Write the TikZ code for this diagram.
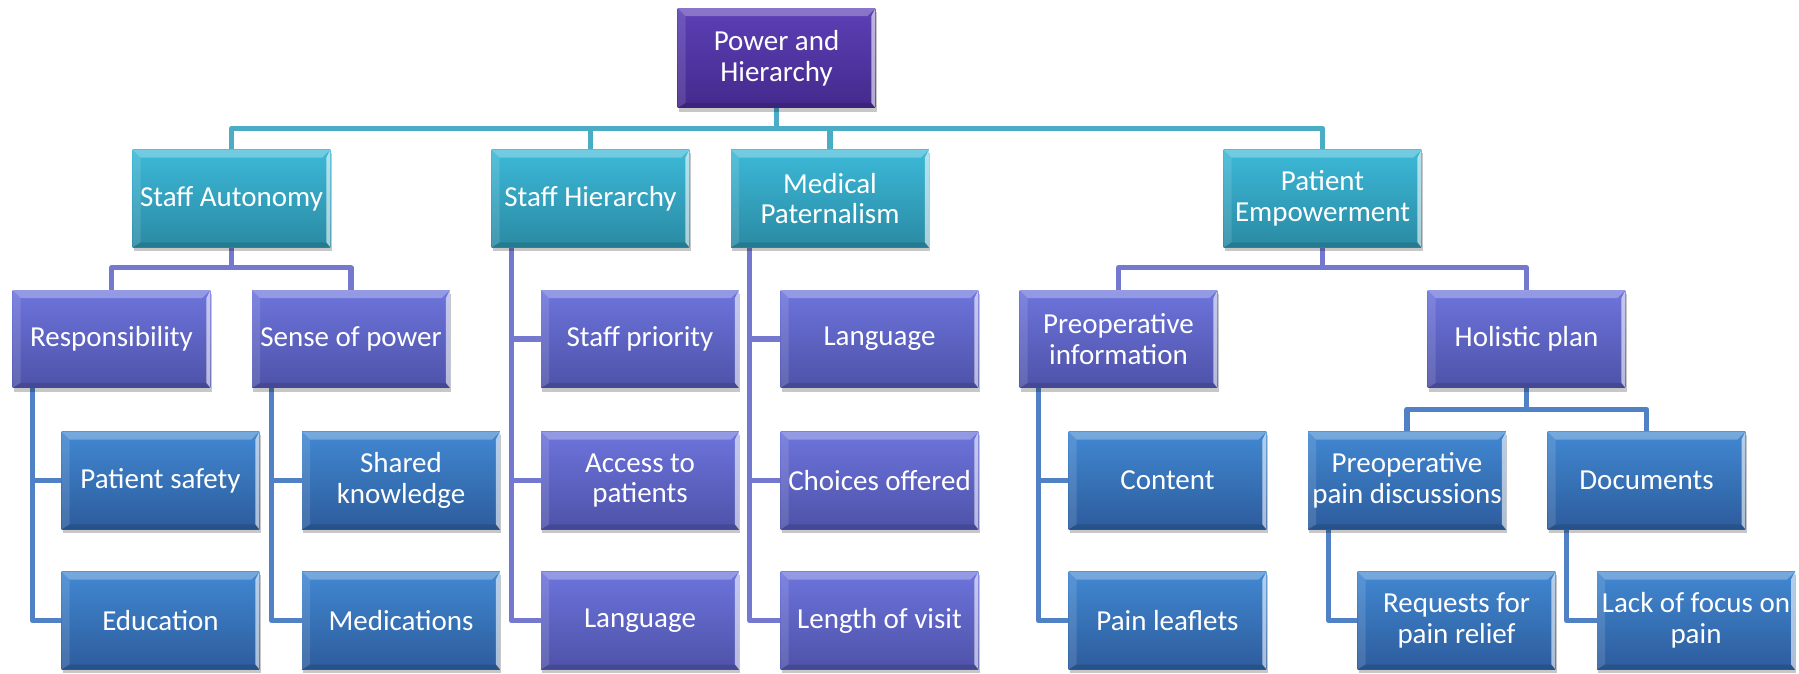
\documentclass[tikz,border=0pt]{standalone}
\usepackage{fontspec}
\setmainfont{Carlito}
\usetikzlibrary{shadows,backgrounds}
\definecolor{RootT}{HTML}{5C40B6}
\definecolor{RootB}{HTML}{44298C}
\definecolor{TealT}{HTML}{3CB9D8}
\definecolor{TealB}{HTML}{2A8AA3}
\definecolor{PerT}{HTML}{6D74DC}
\definecolor{PerB}{HTML}{4E52A8}
\definecolor{BlueT}{HTML}{4188D2}
\definecolor{BlueB}{HTML}{2D5C9C}
\definecolor{TealL}{HTML}{4BACC6}
\definecolor{PerL}{HTML}{7479CF}
\definecolor{BlueL}{HTML}{4F81C4}
\newcommand{\boxfont}{\fontsize{16.5}{17.6}\selectfont}
\tikzset{
  bevelbox/.style={
    draw=none, minimum width=3.96cm, minimum height=1.96cm, inner sep=1pt,
    text=white, align=center, font=\boxfont,
    drop shadow={shadow xshift=0.6pt, shadow yshift=-2.2pt, fill=black, opacity=0.22},
    path picture={
      \fill[white,opacity=0.28] (path picture bounding box.north west) -- (path picture bounding box.north east)
        -- ([shift={(-0.16cm,-0.16cm)}]path picture bounding box.north east)
        -- ([shift={(0.16cm,-0.16cm)}]path picture bounding box.north west) -- cycle;
      \fill[white,opacity=0.12] (path picture bounding box.north west)
        -- ([shift={(0.16cm,-0.16cm)}]path picture bounding box.north west)
        -- ([shift={(0.16cm,0.1cm)}]path picture bounding box.south west)
        -- (path picture bounding box.south west) -- cycle;
      \fill[white,opacity=0.6] (path picture bounding box.north east) -- (path picture bounding box.south east)
        -- ([shift={(-0.08cm,0.1cm)}]path picture bounding box.south east)
        -- ([shift={(-0.08cm,-0.16cm)}]path picture bounding box.north east) -- cycle;
      \fill[black,opacity=0.12] (path picture bounding box.south west) -- (path picture bounding box.south east)
        -- ([shift={(-0.08cm,0.1cm)}]path picture bounding box.south east)
        -- ([shift={(0.16cm,0.1cm)}]path picture bounding box.south west) -- cycle;
    }},
  lvroot/.style={bevelbox, top color=RootT, bottom color=RootB, minimum height=2.0cm},
  lvteal/.style={bevelbox, top color=TealT, bottom color=TealB},
  lvper/.style={bevelbox, top color=PerT, bottom color=PerB},
  lvblue/.style={bevelbox, top color=BlueT, bottom color=BlueB},
  conn/.style={line width=2.9pt, line join=round, line cap=round},
  tealline/.style={conn, draw=TealL},
  perline/.style={conn, draw=PerL},
  blueline/.style={conn, draw=BlueL},
}
\begin{document}
\begin{tikzpicture}[x=0.02cm, y=-0.02cm]
\useasboundingbox (0,0) rectangle (1799,673);
% level 0
\node[lvroot] (root) at (776.5,58) {Power and\\Hierarchy};
% level 1
\node[lvteal] (sa) at (231.5,198.5) {Staff Autonomy};
\node[lvteal] (sh) at (590.5,198.5) {Staff Hierarchy};
\node[lvteal] (mp) at (830,198.5) {Medical\\Paternalism};
\node[lvteal] (pe) at (1322.5,198.5) {Patient\\Empowerment};
% level 2
\node[lvper] (resp) at (111.5,339) {Responsibility};
\node[lvper] (sop) at (351,339) {Sense of power};
\node[lvper] (sp) at (640,339) {Staff priority};
\node[lvper] (acc) at (640,480.5) {Access to\\patients};
\node[lvper] (lang1) at (640,620.5) {Language};
\node[lvper] (lang2) at (879.5,339) {Language};
\node[lvper] (cho) at (879.5,480.5) {Choices offered};
\node[lvper] (len) at (879.5,620.5) {Length of visit};
\node[lvper] (pi) at (1118.5,339) {Preoperative\\information};
\node[lvper] (hp) at (1526.5,339) {Holistic plan};
% level 3
\node[lvblue] (ps) at (160.5,480.5) {Patient safety};
\node[lvblue] (edu) at (160.5,620.5) {Education};
\node[lvblue] (sk) at (401,480.5) {Shared\\knowledge};
\node[lvblue] (med) at (401,620.5) {Medications};
\node[lvblue] (con) at (1167.5,480.5) {Content};
\node[lvblue] (pl) at (1167.5,620.5) {Pain leaflets};
\node[lvblue] (ppd) at (1407,480.5) {Preoperative\\pain discussions};
\node[lvblue] (doc) at (1646.5,480.5) {Documents};
\node[lvblue] (req) at (1456.5,620.5) {Requests for\\pain relief};
\node[lvblue] (lack) at (1696,620.5) {Lack of focus on\\pain};
\begin{scope}[on background layer]
% level 0 -> 1
\draw[tealline] (root.south) -- ++(0,20) -| (sa.north);
\draw[tealline] (root.south) -- ++(0,20) -| (sh.north);
\draw[tealline] (root.south) -- ++(0,20) -| (mp.north);
\draw[tealline] (root.south) -- ++(0,20) -| (pe.north);
% level 1 -> 2
\draw[perline] (sa.south) -- ++(0,20) -| (resp.north);
\draw[perline] (sa.south) -- ++(0,20) -| (sop.north);
\draw[perline] ([xshift=0.4cm]sh.south west) |- (sp.west);
\draw[perline] ([xshift=0.4cm]sh.south west) |- (acc.west);
\draw[perline] ([xshift=0.4cm]sh.south west) |- (lang1.west);
\draw[perline] ([xshift=0.38cm]mp.south west) |- (lang2.west);
\draw[perline] ([xshift=0.38cm]mp.south west) |- (cho.west);
\draw[perline] ([xshift=0.38cm]mp.south west) |- (len.west);
\draw[perline] (pe.south) -- ++(0,20) -| (pi.north);
\draw[perline] (pe.south) -- ++(0,20) -| (hp.north);
% level 2 -> 3
\draw[blueline] ([xshift=0.4cm]resp.south west) |- (ps.west);
\draw[blueline] ([xshift=0.4cm]resp.south west) |- (edu.west);
\draw[blueline] ([xshift=0.4cm]sop.south west) |- (sk.west);
\draw[blueline] ([xshift=0.4cm]sop.south west) |- (med.west);
\draw[blueline] ([xshift=0.38cm]pi.south west) |- (con.west);
\draw[blueline] ([xshift=0.38cm]pi.south west) |- (pl.west);
\draw[blueline] (hp.south) -- ++(0,21) -| (ppd.north);
\draw[blueline] (hp.south) -- ++(0,21) -| (doc.north);
\draw[blueline] ([xshift=0.42cm]ppd.south west) |- (req.west);
\draw[blueline] ([xshift=0.38cm]doc.south west) |- (lack.west);
\end{scope}
\end{tikzpicture}
\end{document}
